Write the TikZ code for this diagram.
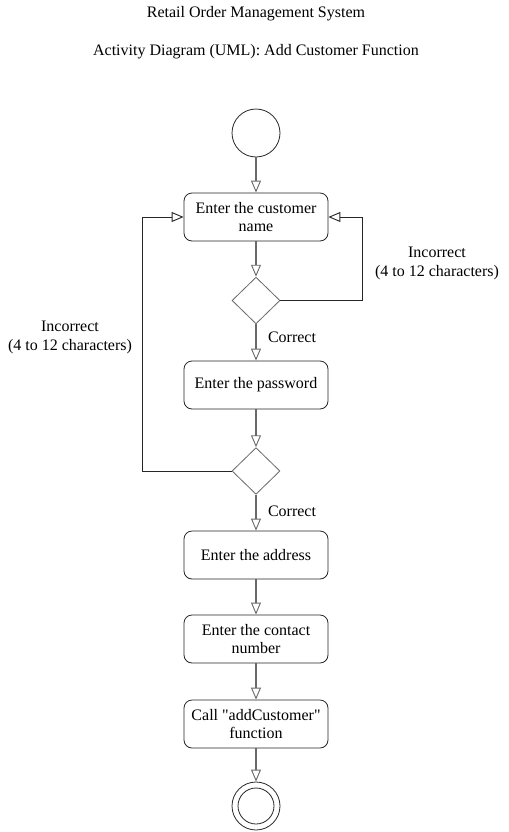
\documentclass[tikz,border=0pt]{standalone}
\usepackage{fontspec}
\setmainfont{Liberation Serif}
\usetikzlibrary{arrows.meta, shapes.geometric}

\definecolor{edgegray}{RGB}{105,105,105}
\tikzset{
	action/.style={rectangle, rounded corners=6pt, draw=black!85, line width=0.6pt, minimum width=108pt, minimum height=36pt, align=center, inner sep=2pt},
	decision/.style={diamond, draw=edgegray, line width=0.6pt, minimum width=36pt, minimum height=35pt, inner sep=0pt},
	startnode/.style={circle, draw=black!85, line width=0.6pt, minimum size=36pt, inner sep=0pt},
	flow/.style={draw=edgegray, line width=1pt, -{Triangle[open, length=9pt, width=7.5pt, line width=0.7pt]}},
	backflow/.style={draw=black!85, line width=0.6pt, -{Triangle[open, length=9pt, width=7.5pt, line width=0.7pt]}},
	guard/.style={align=center, inner sep=0pt}
}

\begin{document}
\begin{tikzpicture}[x=0.75pt, y=-0.75pt, font=\fontsize{12}{14.2}\selectfont]
	
	\useasboundingbox (0,0) rectangle (508,832);
	
	\node[] (title) at (256,14) {Retail Order Management System};
	\node[] (subtitle) at (256,52) {Activity Diagram (UML): Add Customer Function};
	
	\node[startnode] (start) at (256,133) {};
	\node[action] (name) at (256,217) {Enter the customer\\name};
	\node[decision] (checkname) at (256,300.5) {};
	\node[action] (pass) at (256,385) {Enter the password};
	\node[decision] (checkpass) at (256,471) {};
	\node[action] (addr) at (256,555) {Enter the address};
	\node[action] (contact) at (256,639) {Enter the contact\\number};
	\node[action] (call) at (256,724) {Call \textquotedbl addCustomer\textquotedbl\\function};
	\node[startnode] (finish) at (256,806) {};
	\node[circle, fill=white, draw=black!85, line width=0.6pt, minimum size=27pt, inner sep=0pt] (finishin) at (finish) {};
	
	\coordinate (loopL) at (142,217);
	\coordinate (loopR) at (362,217);
	
	\draw[flow] (start) -- (name);
	\draw[flow] (name) -- (checkname);
	\draw[flow] (checkname) -- (pass);
	\draw[flow] (pass) -- (checkpass);
	\draw[flow] (checkpass) -- (addr);
	\draw[flow] (addr) -- (contact);
	\draw[flow] (contact) -- (call);
	\draw[flow] (call) -- (finish);
	
	\draw[backflow] (checkname.east) -| (loopR) -- (name.east);
	\draw[backflow] (checkpass.west) -| (loopL) -- (name.west);
	
	\node[guard] (wrongR) at (437,263) {Incorrect\\(4 to 12 characters)};
	\node[guard] (wrongL) at (70,337) {Incorrect\\(4 to 12 characters)};
	\node[guard] (okname) at (292,337) {Correct};
	\node[guard] (okpass) at (292,511) {Correct};
	
\end{tikzpicture}
\end{document}
